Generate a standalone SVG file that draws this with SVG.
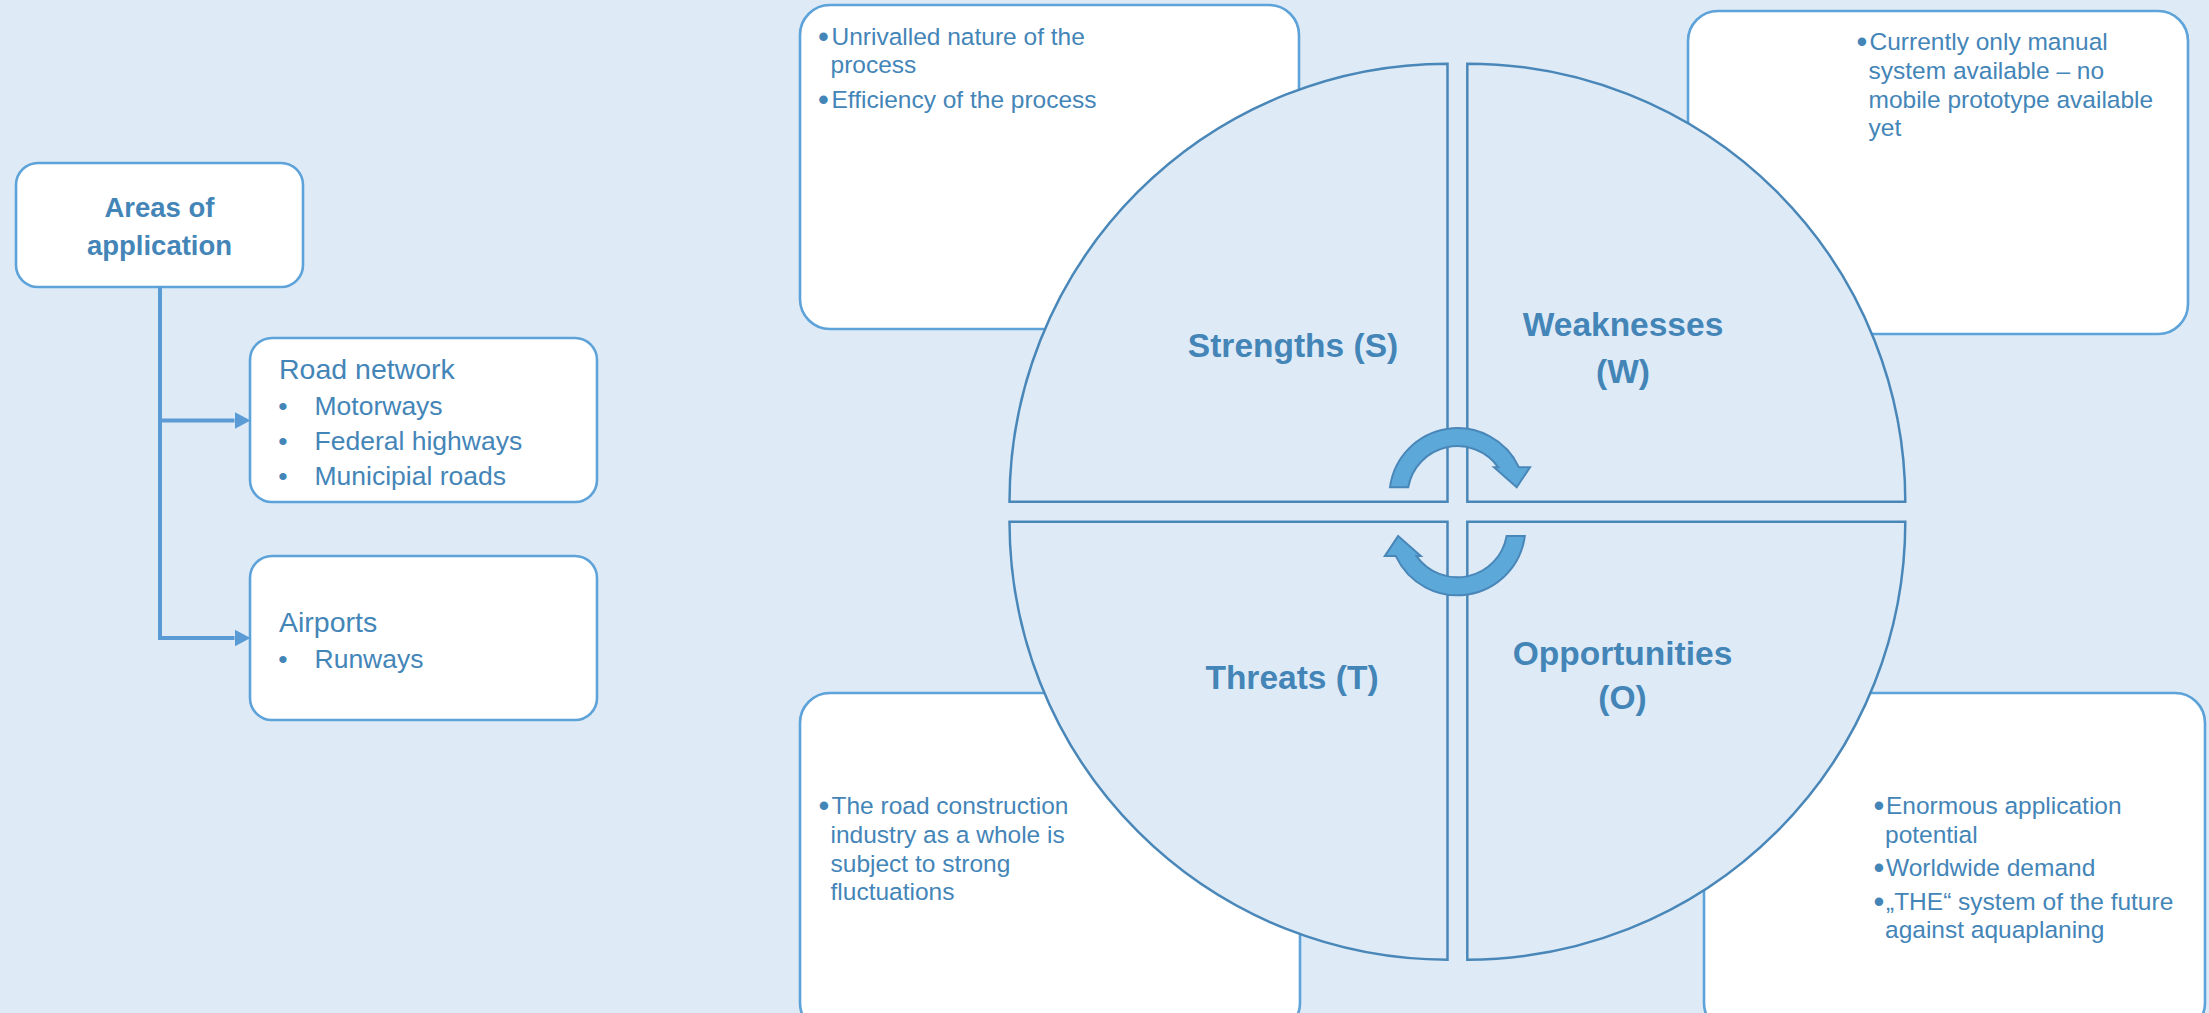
<svg xmlns="http://www.w3.org/2000/svg" width="2209" height="1013" viewBox="0 0 2209 1013">
  <style>
    .t { font-family: "Liberation Sans", Arial, sans-serif; fill: #4485B8; }
    .title { font-weight: bold; font-size: 27.5px; text-anchor: middle; }
    .head { font-size: 28.5px; }
    .item { font-size: 26.5px; }
    .dot { text-anchor: middle; }
    .note { font-size: 24.5px; }
    .note-dot { font-size: 31px; text-anchor: middle; }
    .quad-label { font-weight: bold; font-size: 33.5px; text-anchor: middle; }
    .box { fill: #FFFFFF; stroke: #5DA2D8; stroke-width: 2.6; }
    .quad { fill: #DEEBF7; stroke: #4A87B9; stroke-width: 2.5; }
    .cycle { fill: #5CA8D8; stroke: #4A87B9; stroke-width: 2; }
    .link { fill: none; stroke: #5B9BD5; stroke-width: 4; }
  </style>
  <defs>
    <marker id="head" markerUnits="userSpaceOnUse" markerWidth="16" markerHeight="17" refX="0" refY="8.5" orient="auto">
      <path d="M0,0 L16,8.5 L0,17 Z" fill="#5B9BD5"/>
    </marker>
  </defs>

  <rect width="2209" height="1013" fill="#DEEBF7"/>

  <!-- areas of application tree -->
  <g id="areas">
    <rect class="box" x="16" y="163" width="287" height="124" rx="22"/>
    <text class="t title" x="159.5" y="216.5">Areas of</text>
    <text class="t title" x="159.5" y="255">application</text>
  </g>

  <g id="road-network">
    <rect class="box" x="250" y="338" width="347" height="164" rx="22"/>
    <text class="t head" x="279" y="379">Road network</text>
    <text class="t item dot" x="283" y="415">•</text>
    <text class="t item" x="314.5" y="415">Motorways</text>
    <text class="t item dot" x="283" y="450">•</text>
    <text class="t item" x="314.5" y="450">Federal highways</text>
    <text class="t item dot" x="283" y="484.5">•</text>
    <text class="t item" x="314.5" y="484.5">Municipial roads</text>
  </g>

  <g id="airports">
    <rect class="box" x="250" y="556" width="347" height="164" rx="22"/>
    <text class="t head" x="279" y="632">Airports</text>
    <text class="t item dot" x="283" y="668">•</text>
    <text class="t item" x="314.5" y="668">Runways</text>
  </g>

  <g id="connectors">
    <path class="link" d="M160,287 V638 H234.5" marker-end="url(#head)"/>
    <path class="link" d="M160,420.5 H234.5" marker-end="url(#head)"/>
  </g>

  <!-- SWOT note boxes (behind the quadrants) -->
  <g id="note-s">
    <rect class="box" x="800" y="5" width="499" height="324" rx="30"/>
    <text class="t note-dot" x="823.5" y="46.5">•</text>
    <text class="t note" x="831.5" y="44.5">Unrivalled nature of the</text>
    <text class="t note" x="830.5" y="73">process</text>
    <text class="t note-dot" x="823.5" y="109.5">•</text>
    <text class="t note" x="831.5" y="107.5">Efficiency of the process</text>
  </g>

  <g id="note-w">
    <rect class="box" x="1688" y="11" width="500" height="323" rx="30"/>
    <text class="t note-dot" x="1862" y="52">•</text>
    <text class="t note" x="1869.5" y="50">Currently only manual</text>
    <text class="t note" x="1868.5" y="79">system available – no</text>
    <text class="t note" x="1868.5" y="107.5">mobile prototype available</text>
    <text class="t note" x="1868.5" y="136">yet</text>
  </g>

  <g id="note-t">
    <rect class="box" x="800" y="693" width="500" height="340" rx="30"/>
    <text class="t note-dot" x="824" y="815.5">•</text>
    <text class="t note" x="831.5" y="813.5">The road construction</text>
    <text class="t note" x="830.5" y="842.5">industry as a whole is</text>
    <text class="t note" x="830.5" y="871.5">subject to strong</text>
    <text class="t note" x="830.5" y="900">fluctuations</text>
  </g>

  <g id="note-o">
    <rect class="box" x="1704" y="693" width="501" height="340" rx="30"/>
    <text class="t note-dot" x="1879" y="815.5">•</text>
    <text class="t note" x="1886" y="813.5">Enormous application</text>
    <text class="t note" x="1885" y="842.5">potential</text>
    <text class="t note-dot" x="1879" y="878">•</text>
    <text class="t note" x="1886" y="876">Worldwide demand</text>
    <text class="t note-dot" x="1879" y="911.5">•</text>
    <text class="t note" x="1886" y="909.5">„THE“ system of the future</text>
    <text class="t note" x="1885" y="938">against aquaplaning</text>
  </g>

  <!-- SWOT circle quadrants -->
  <g id="quad-s">
    <path class="quad" d="M1447.5,501.7 H1009.5 A438,438 0 0 1 1447.5,63.7 Z"/>
    <text class="t quad-label" x="1293" y="356.5">Strengths (S)</text>
  </g>
  <g id="quad-w">
    <path class="quad" d="M1467.3,501.7 V63.7 A438,438 0 0 1 1905.3,501.7 Z"/>
    <text class="t quad-label" x="1623" y="336">Weaknesses</text>
    <text class="t quad-label" x="1623" y="383">(W)</text>
  </g>
  <g id="quad-t">
    <path class="quad" d="M1447.5,521.7 V959.7 A438,438 0 0 1 1009.5,521.7 Z"/>
    <text class="t quad-label" x="1292" y="688.5">Threats (T)</text>
  </g>
  <g id="quad-o">
    <path class="quad" d="M1467.3,521.7 H1905.3 A438,438 0 0 1 1467.3,959.7 Z"/>
    <text class="t quad-label" x="1622.5" y="664.5">Opportunities</text>
    <text class="t quad-label" x="1622.5" y="708.5">(O)</text>
  </g>

  <!-- cycle arrows in the middle -->
  <g id="cycle">
    <path id="cycle-top" class="cycle" d="M1390,487.3 A68,68 0 0 1 1519,467.3 L1530,467.3 L1516.7,487.3 L1494,467.3 L1498.3,467.3 A50,50 0 0 0 1408.2,487.3 Z"/>
    <path id="cycle-bottom" class="cycle" transform="rotate(180 1457.4 511.7)" d="M1390,487.3 A68,68 0 0 1 1519,467.3 L1530,467.3 L1516.7,487.3 L1494,467.3 L1498.3,467.3 A50,50 0 0 0 1408.2,487.3 Z"/>
  </g>
</svg>
